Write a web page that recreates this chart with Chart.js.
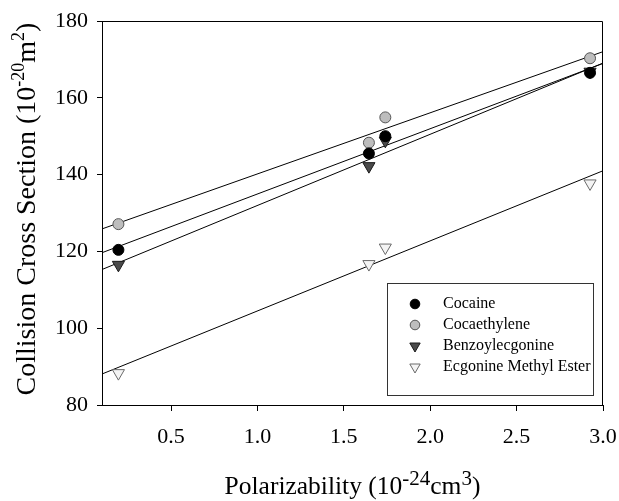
<!DOCTYPE html>
<html>
<head>
<meta charset="utf-8">
<title>Collision Cross Section vs Polarizability</title>
<script src="https://cdn.jsdelivr.net/npm/chart.js@4"></script>
<style>
  html, body { margin: 0; padding: 0; background: #fff; }
  canvas { display: block; }
</style>
</head>
<body>
<canvas id="ccsChart" width="619" height="501"></canvas>
<script>
// values
const polarizability = [0.195, 1.645, 1.74, 2.925];
const cocaine = [120.4, 145.5, 150.0, 166.5];
const cocaethylene = [127.1, 148.3, 154.9, 170.3];
const benzoylecgonine = [116.5, 142.2, 148.8, 166.8];
const ecgonineMethylEster = [88.3, 116.7, 121.0, 137.7];

const seriesNames = ["Cocaine", "Cocaethylene", "Benzoylecgonine", "Ecgonine Methyl Ester"];
const xTicks = [0.5, 1.0, 1.5, 2.0, 2.5, 3.0];
const yTicks = [80, 100, 120, 140, 160, 180];
const xMin = 0.1;
const xMax = 3.0;

const SERIF = "'Liberation Serif', 'Times New Roman', serif";

const markerStyles = [
  { pointStyle: "circle", rotation: 0, radius: 5.5, bg: "#000000", border: "#000000" },
  { pointStyle: "circle", rotation: 0, radius: 5.5, bg: "#bdbdbd", border: "#555555" },
  { pointStyle: "triangle", rotation: 180, radius: 7, bg: "#4a4a4a", border: "#1a1a1a" },
  { pointStyle: "triangle", rotation: 180, radius: 7, bg: "#f4f4f4", border: "#6a6a6a" },
];

function linearFit(xs, ys) {
  const n = xs.length;
  const mx = xs.reduce((a, b) => a + b, 0) / n;
  const my = ys.reduce((a, b) => a + b, 0) / n;
  let sxx = 0;
  let sxy = 0;
  for (let i = 0; i < n; i++) {
    sxx += (xs[i] - mx) * (xs[i] - mx);
    sxy += (xs[i] - mx) * (ys[i] - my);
  }
  const slope = sxy / sxx;
  return { slope, intercept: my - slope * mx };
}

const allSeries = [cocaine, cocaethylene, benzoylecgonine, ecgonineMethylEster];

const pointDatasets = allSeries.map((values, i) => ({
  type: "scatter",
  label: seriesNames[i],
  data: values.map((y, j) => ({ x: polarizability[j], y })),
  pointStyle: markerStyles[i].pointStyle,
  rotation: markerStyles[i].rotation,
  pointRadius: markerStyles[i].radius,
  pointBackgroundColor: markerStyles[i].bg,
  pointBorderColor: markerStyles[i].border,
  pointBorderWidth: 1,
  showLine: false,
}));

const fitDatasets = allSeries.map((values, i) => {
  const fit = linearFit(polarizability, values);
  return {
    type: "line",
    label: seriesNames[i] + " fit",
    data: [
      { x: xMin, y: fit.intercept + fit.slope * xMin },
      { x: xMax, y: fit.intercept + fit.slope * xMax },
    ],
    borderColor: "#000",
    borderWidth: 1,
    pointRadius: 0,
    fill: false,
  };
});

// draws text with raised (superscript) pieces, centred on 0,0
function drawRichText(ctx, parts, baseSize, supSize, raise) {
  let total = 0;
  const widths = parts.map((p) => {
    ctx.font = (p.sup ? supSize : baseSize) + "px " + SERIF;
    const w = ctx.measureText(p.text).width;
    total += w;
    return w;
  });
  let x = -total / 2;
  parts.forEach((p, i) => {
    ctx.font = (p.sup ? supSize : baseSize) + "px " + SERIF;
    ctx.fillText(p.text, x, p.sup ? -raise : 0);
    x += widths[i];
  });
}

const framePlugin = {
  id: "frame",
  afterDraw(chart) {
    const ctx = chart.ctx;
    const a = chart.chartArea;
    ctx.save();
    ctx.strokeStyle = "#000";
    ctx.lineWidth = 1;
    ctx.beginPath();
    ctx.moveTo(a.left, a.top + 0.5);
    ctx.lineTo(a.right - 0.5, a.top + 0.5);
    ctx.lineTo(a.right - 0.5, a.bottom);
    ctx.stroke();

    // axis titles
    ctx.fillStyle = "#000";
    ctx.textBaseline = "alphabetic";
    ctx.textAlign = "left";
    ctx.save();
    ctx.translate((a.left + a.right) / 2, 494);
    drawRichText(ctx, [
      { text: "Polarizability (10" },
      { text: "-24", sup: true },
      { text: "cm" },
      { text: "3", sup: true },
      { text: ")" },
    ], 25.5, 21, 9);
    ctx.restore();

    ctx.save();
    ctx.translate(35, (a.top + a.bottom) / 2 - 4);
    ctx.rotate(-Math.PI / 2);
    drawRichText(ctx, [
      { text: "Collision Cross Section (10" },
      { text: "-20", sup: true },
      { text: "m" },
      { text: "2", sup: true },
      { text: ")" },
    ], 28, 18, 11);
    ctx.restore();
    ctx.restore();
  },
};

const legendPlugin = {
  id: "boxLegend",
  afterDraw(chart) {
    const ctx = chart.ctx;
    const a = chart.chartArea;
    const boxW = 206;
    const boxH = 112;
    const bx = a.right - 10 - boxW;
    const by = a.bottom - 10 - boxH;
    ctx.save();
    ctx.fillStyle = "#fff";
    ctx.fillRect(bx, by, boxW, boxH);
    ctx.strokeStyle = "#333";
    ctx.lineWidth = 1;
    ctx.strokeRect(bx + 0.5, by + 0.5, boxW, boxH);
    ctx.font = "16px " + SERIF;
    ctx.textBaseline = "middle";
    ctx.textAlign = "left";
    seriesNames.forEach((name, i) => {
      const y = by + 21 + i * 21;
      const ds = pointDatasets[i];
      ctx.fillStyle = ds.pointBackgroundColor;
      ctx.strokeStyle = ds.pointBorderColor;
      ctx.lineWidth = 1;
      Chart.helpers.drawPoint(ctx, {
        pointStyle: ds.pointStyle,
        rotation: ds.rotation,
        radius: ds.pointStyle === "triangle" ? 6 : 4.8,
        borderWidth: 1,
      }, bx + 28, y);
      ctx.fillStyle = "#000";
      ctx.fillText(name, bx + 56, y);
    });
    ctx.restore();
  },
};

new Chart(document.getElementById("ccsChart"), {
  type: "scatter",
  data: { datasets: [...pointDatasets, ...fitDatasets] },
  options: {
    responsive: false,
    animation: false,
    devicePixelRatio: 1,
    layout: { padding: { top: 21, right: 16, left: 0, bottom: 0 } },
    plugins: {
      legend: { display: false },
      tooltip: { enabled: false },
    },
    scales: {
      x: {
        type: "linear",
        min: xMin,
        max: xMax,
        afterBuildTicks: (scale) => {
          scale.ticks = xTicks.map((v) => ({ value: v }));
        },
        afterFit: (scale) => {
          scale.height = 96;
          scale.paddingLeft = 0;
          scale.paddingRight = 0;
        },
        ticks: {
          color: "#000",
          font: { family: SERIF, size: 22 },
          padding: 13,
          maxRotation: 0,
          callback: (v) => Number(v).toFixed(1),
        },
        grid: {
          drawOnChartArea: false,
          drawTicks: true,
          tickLength: 6,
          color: "#000",
        },
        border: { color: "#000", width: 1 },
      },
      y: {
        type: "linear",
        min: 80,
        max: 180,
        afterBuildTicks: (scale) => {
          scale.ticks = yTicks.map((v) => ({ value: v }));
        },
        afterFit: (scale) => {
          scale.width = 102;
          scale.paddingTop = 0;
          scale.paddingBottom = 0;
        },
        ticks: {
          color: "#000",
          font: { family: SERIF, size: 22 },
          padding: 9,
          callback: (v) => String(v),
        },
        grid: {
          drawOnChartArea: false,
          drawTicks: true,
          tickLength: 5,
          color: "#000",
        },
        border: { color: "#000", width: 1 },
      },
    },
  },
  plugins: [framePlugin, legendPlugin],
});
</script>
</body>
</html>
